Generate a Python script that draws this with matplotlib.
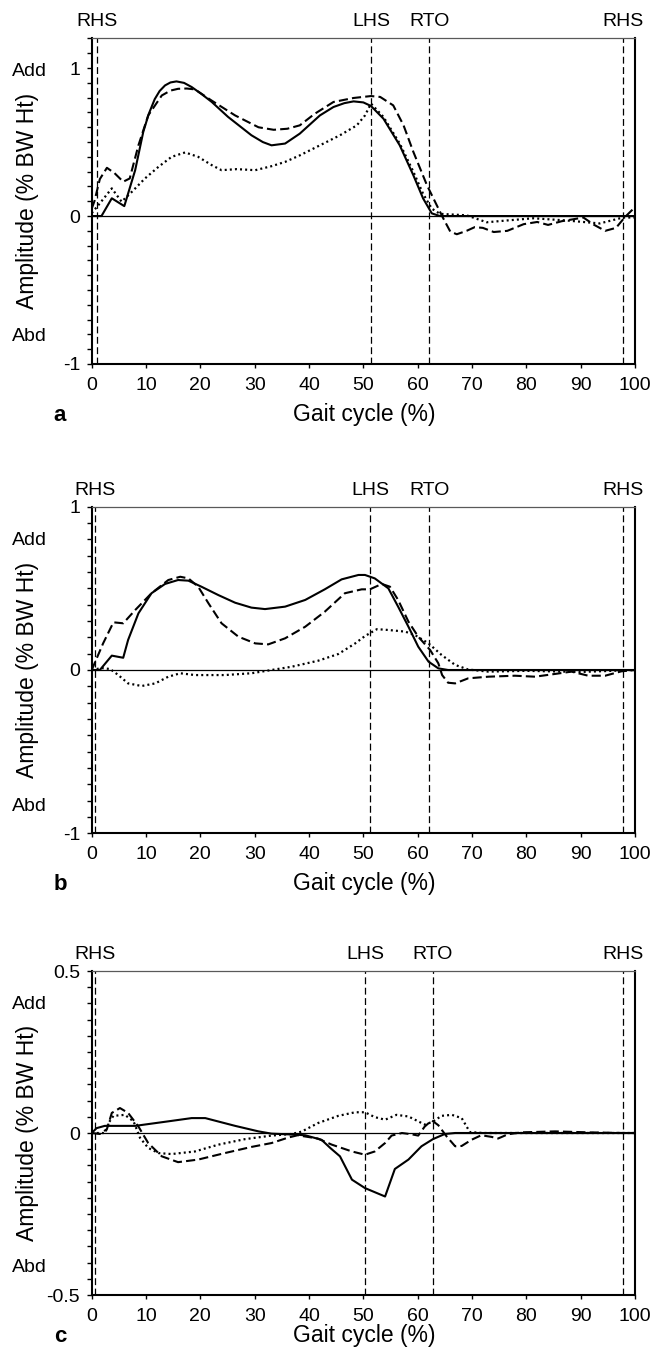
import matplotlib
matplotlib.use("Agg")
import matplotlib.pyplot as plt
from matplotlib.ticker import FixedLocator, MultipleLocator
from matplotlib.transforms import blended_transform_factory

plt.rcParams['font.family'] = ['Liberation Sans', 'DejaVu Sans']

# ---- data (gait cycle %, amplitude % BW Ht) ----
gait_ticks = [0, 10, 20, 30, 40, 50, 60, 70, 80, 90, 100]
event_names = ['RHS', 'LHS', 'RTO', 'RHS']

# panel a
a_events = [0.9, 51.4, 62.1, 97.8]
a_solid_x = [0, 1.8, 3.7, 6.0, 8.0, 9.5, 10.5, 11.6, 12.5, 13.5, 14.5, 15.6, 17.0, 18.4, 20.2, 22.1,
             25.1, 29.4, 31.5, 33.1, 35.6, 38.3, 42.0, 44.5, 46.5, 48.2, 50.0, 51.4, 53.7, 56.7,
             59.2, 61.0, 62.6, 64.1, 100]
a_solid_y = [0, 0, 0.12, 0.067, 0.31, 0.57, 0.69, 0.79, 0.845, 0.883, 0.903, 0.91, 0.90, 0.872,
             0.825, 0.771, 0.67, 0.546, 0.50, 0.478, 0.49, 0.557, 0.68, 0.737, 0.763, 0.775, 0.768,
             0.744, 0.658, 0.478, 0.276, 0.119, 0.018, 0, 0]
a_dash_x = [0, 0.5, 1.5, 2.8, 4.2, 5.8, 7.0, 8.6, 10.4, 12.9, 14.5, 15.9, 17.5, 19.0, 22.1, 26.4,
            30.7, 33.5, 36, 38.3, 41, 44.5, 48.2, 51.4, 53.1, 55.5, 57.4, 59.2, 61.7, 63.5, 64.7,
            66.0, 67.2, 69.0, 70.5, 72.0, 74.0, 76.5, 79.5, 82.0, 84.0, 86.5, 90.5, 92.5, 94.5,
            96.5, 98.2, 100]
a_dash_y = [0.05, 0.1, 0.25, 0.326, 0.29, 0.232, 0.254, 0.478, 0.68, 0.815, 0.848, 0.86, 0.862,
            0.856, 0.78, 0.68, 0.60, 0.583, 0.59, 0.613, 0.69, 0.771, 0.798, 0.811, 0.805, 0.748,
            0.613, 0.434, 0.209, 0.074, -0.015, -0.105, -0.123, -0.1, -0.075, -0.08, -0.108, -0.1,
            -0.055, -0.04, -0.06, -0.035, -0.01, -0.06, -0.1, -0.08, -0.005, 0.06]
a_dot_x = [0, 1.5, 3.7, 5.5, 7.4, 9.8, 12.3, 14.7, 17.2, 19.6, 22.1, 23.9, 26.7, 30.1, 33.1, 35.6,
           38.3, 42.0, 45.7, 48.8, 50.3, 51.4, 53.7, 56.7, 59.2, 61.0, 62.6, 64.1, 69.0, 72.7,
           76.4, 81.3, 87.4, 93.5, 97.8, 100]
a_dot_y = [0.02, 0.086, 0.187, 0.097, 0.164, 0.254, 0.333, 0.40, 0.43, 0.40, 0.344, 0.31, 0.317,
           0.31, 0.337, 0.366, 0.41, 0.478, 0.546, 0.613, 0.68, 0.76, 0.67, 0.49, 0.30, 0.15, 0.05,
           0.015, 0.005, -0.042, -0.03, -0.015, -0.03, -0.05, -0.01, -0.01]

# panel b
b_events = [0.6, 51.3, 62.1, 97.8]
b_solid_x = [0, 1.5, 3.7, 5.8, 6.7, 8.6, 11.0, 13.5, 15.9, 17.8, 20.2, 23.3, 26.4, 29.4, 31.9, 35.6,
             39.3, 42.9, 46.0, 49.1, 50.3, 52.1, 54.6, 56.4, 58.3, 60.1, 62.0, 63.8, 65.6, 100]
b_solid_y = [0, 0, 0.088, 0.075, 0.184, 0.347, 0.47, 0.527, 0.551, 0.547, 0.51, 0.459, 0.412, 0.382,
             0.373, 0.388, 0.429, 0.494, 0.555, 0.582, 0.582, 0.561, 0.50, 0.388, 0.265, 0.143,
             0.051, 0.01, 0, 0]
b_dash_x = [0, 2.1, 4.0, 5.8, 8.0, 11.0, 14.1, 16.3, 17.8, 19.6, 21.5, 23.9, 27.0, 30.1, 32.5, 35.6,
            39.3, 42.9, 46.6, 49.7, 51.2, 53.4, 54.9, 56.4, 58.3, 60.1, 62.3, 63.8, 64.5, 65.6,
            66.9, 69.3, 73.0, 77.9, 81.6, 85.3, 88.3, 91.4, 94.5, 97.5, 100]
b_dash_y = [0, 0.163, 0.292, 0.286, 0.367, 0.47, 0.551, 0.571, 0.561, 0.51, 0.408, 0.286, 0.204,
            0.163, 0.157, 0.194, 0.265, 0.357, 0.47, 0.494, 0.494, 0.527, 0.51, 0.429, 0.296, 0.204,
            0.122, 0.041, -0.031, -0.078, -0.082, -0.051, -0.041, -0.035, -0.041, -0.024, -0.01,
            -0.035, -0.035, -0.008, 0]
b_dot_x = [0, 1.8, 3.4, 4.9, 6.7, 9.2, 11.7, 14.1, 16.3, 19.0, 24.5, 29.4, 33.1, 36.8, 41.7, 45.4,
           48.5, 50.3, 52.5, 54.6, 57.7, 59.5, 62.0, 64.4, 66.9, 69.3, 73.0, 80.0, 90.0, 100]
b_dot_y = [0, 0.012, 0.006, -0.031, -0.082, -0.098, -0.082, -0.041, -0.02, -0.031, -0.031, -0.02,
           0, 0.02, 0.057, 0.098, 0.163, 0.208, 0.25, 0.245, 0.235, 0.214, 0.163, 0.092, 0.031,
           0.003, -0.01, -0.005, -0.012, 0]

# panel c
c_events = [0.6, 50.3, 62.8, 97.8]
c_solid_x = [0, 0.9, 2.4, 8.0, 14.1, 18.4, 20.9, 26.4, 30.7, 33.1, 37.4, 39.3, 42.3, 43.9, 45.7,
             47.9, 50.3, 54.0, 55.8, 58.3, 60.7, 62.8, 65.0, 66.9, 100]
c_solid_y = [0, 0.015, 0.022, 0.022, 0.036, 0.046, 0.046, 0.022, 0.005, -0.002, -0.005, -0.007,
             -0.021, -0.046, -0.072, -0.144, -0.17, -0.196, -0.111, -0.082, -0.041, -0.019,
             -0.003, 0, 0]
c_dash_x = [0, 1.5, 2.8, 3.7, 5.2, 6.7, 8.6, 10.4, 12.9, 15.9, 19.6, 24.5, 29.4, 33.1, 36.2, 37.9,
            41.6, 44.2, 47.9, 50.3, 52.1, 54.0, 55.2, 57.1, 58.9, 60.1, 61.3, 62.6, 63.8, 65.3,
            66.9, 68.1, 69.9, 71.7, 73.6, 74.8, 76.6, 79.1, 85.3, 91.4, 97.5, 100]
c_dash_y = [0, -0.003, 0.012, 0.062, 0.077, 0.062, 0.02, -0.031, -0.072, -0.09, -0.082, -0.062,
            -0.043, -0.031, -0.014, -0.007, -0.017, -0.036, -0.057, -0.067, -0.057, -0.031,
            -0.008, 0, -0.004, -0.008, 0.02, 0.039, 0.024, -0.01, -0.041, -0.04, -0.021, -0.007,
            -0.012, -0.017, -0.004, 0.002, 0.005, 0.002, 0, 0]
c_dot_x = [0, 2.5, 3.1, 4.0, 6.1, 7.7, 8.9, 10.4, 12.3, 14.7, 19.0, 23.3, 28.2, 33.1, 36.8, 38.6,
           41.7, 45.4, 48.5, 50.3, 52.1, 54.0, 56.1, 58.3, 61.3, 62.8, 64.4, 66.3, 68.1, 69.6, 72, 100]
c_dot_y = [0, 0, 0.031, 0.053, 0.056, 0.036, -0.015, -0.046, -0.062, -0.065, -0.057, -0.036,
           -0.019, -0.008, -0.003, 0.004, 0.031, 0.053, 0.064, 0.064, 0.049, 0.041, 0.056, 0.051,
           0.026, 0.035, 0.053, 0.056, 0.046, 0.003, 0, 0]

a_yticks, a_yticklabels = [-1, 0, 1], ['-1', '0', '1']
b_yticks, b_yticklabels = [-1, 0, 1], ['-1', '0', '1']
c_yticks, c_yticklabels = [-0.5, 0, 0.5], ['-0.5', '0', '0.5']

W, H = 655, 1358
PX = 0.72  # points per pixel at dpi 100
FS = 14

fig = plt.figure(figsize=(W / 100, H / 100), dpi=100)


def panel(top_px, bottom_px, ylim, yticks, yticklabels, minor, events, curves, letter, xlab_px):
    ax = fig.add_axes([91.7 / W, 1 - bottom_px / H, 543.3 / W, (bottom_px - top_px) / H])
    ax.set_xlim(0, 100)
    ax.set_ylim(*ylim)

    # curves: solid, dashed, dotted
    sx, sy, dx, dy, ox, oy = curves
    ax.plot(sx, sy, color='black', lw=1.5, solid_joinstyle='round')
    ax.plot(dx, dy, color='black', lw=1.5, linestyle=(0, (4.4, 2.0)))
    ax.plot(ox, oy, color='black', lw=1.6, linestyle=(0, (0.9, 1.4)))
    ax.axhline(0, color='black', lw=0.9)

    trans = blended_transform_factory(ax.transData, ax.transAxes)
    for ev, name in zip(events, event_names):
        ax.axvline(ev, color='black', lw=0.9, linestyle=(0, (5.5, 2.8)))
        ax.annotate(name, xy=(ev, 1), xycoords=trans, xytext=(0, 12 * PX),
                    textcoords='offset points', ha='center', va='baseline', fontsize=FS)

    ax.xaxis.set_major_locator(FixedLocator(gait_ticks))
    ax.set_xticklabels([str(t) for t in gait_ticks])
    ax.yaxis.set_major_locator(FixedLocator(yticks))
    ax.set_yticklabels(yticklabels)
    ax.yaxis.set_minor_locator(MultipleLocator(minor))
    ax.tick_params(axis='y', which='both', direction='out', length=3.8, width=1.0,
                   labelsize=FS, pad=4.5, right=False)
    ax.tick_params(axis='x', which='both', direction='out', length=3.2, width=1.0,
                   labelsize=FS, pad=6, top=False)

    for side in ['left', 'bottom', 'right']:
        ax.spines[side].set_linewidth(1.5)
    ax.spines['top'].set_linewidth(0.9)
    ax.spines['top'].set_color('0.35')

    # side annotations
    ax.annotate('Add', xy=(0, 1), xycoords='axes fraction', xytext=(-62.7 * PX, -38 * PX),
                textcoords='offset points', ha='center', va='baseline', fontsize=FS)
    ax.annotate('Abd', xy=(0, 0), xycoords='axes fraction', xytext=(-62.7 * PX, 22.5 * PX),
                textcoords='offset points', ha='center', va='baseline', fontsize=FS)
    ax.annotate('Amplitude (% BW Ht)', xy=(0, 0.5), xycoords='axes fraction',
                xytext=(-64 * PX, 0), textcoords='offset points', rotation=90,
                ha='center', va='center', fontsize=16.5)
    ax.annotate('Gait cycle (%)', xy=(0.5, 0), xycoords='axes fraction',
                xytext=(1.4 * PX, -xlab_px * PX), textcoords='offset points',
                ha='center', va='baseline', fontsize=16.5)
    ax.annotate(letter, xy=(0, 0), xycoords='axes fraction',
                xytext=(-31.7 * PX, -xlab_px * PX), textcoords='offset points',
                ha='center', va='baseline', fontsize=16, fontweight='bold')
    return ax


panel(38.5, 364, (-1, 1.2), a_yticks, a_yticklabels, 0.1, a_events,
      (a_solid_x, a_solid_y, a_dash_x, a_dash_y, a_dot_x, a_dot_y), 'a', 57)
panel(506.7, 833.3, (-1, 1), b_yticks, b_yticklabels, 0.1, b_events,
      (b_solid_x, b_solid_y, b_dash_x, b_dash_y, b_dot_x, b_dot_y), 'b', 57)
panel(971, 1295, (-0.5, 0.5), c_yticks, c_yticklabels, 0.05, c_events,
      (c_solid_x, c_solid_y, c_dash_x, c_dash_y, c_dot_x, c_dot_y), 'c', 47)

fig.savefig('out.png', dpi=100)
